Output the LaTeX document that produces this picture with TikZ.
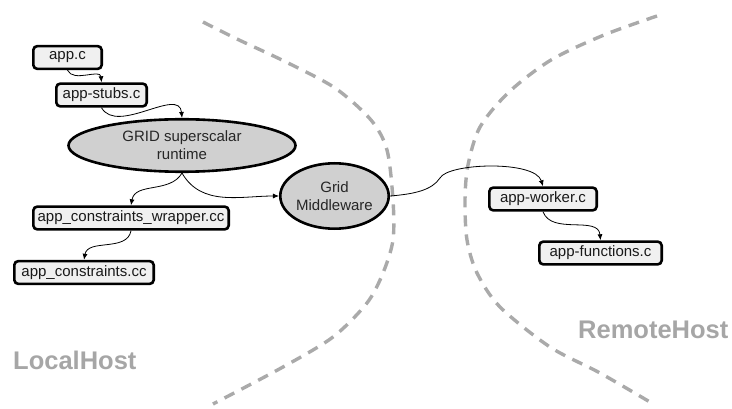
\documentclass[tikz,border=0pt]{standalone}
\usepackage{fontspec}
\setmainfont{Liberation Sans}
\usetikzlibrary{shapes.geometric,arrows.meta}
\definecolor{boxfill}{RGB}{240,240,240}
\definecolor{ellfill}{RGB}{208,208,208}
\definecolor{sepgray}{RGB}{170,170,170}
\definecolor{hostgray}{RGB}{166,166,166}
\begin{document}
\begin{tikzpicture}[x=1pt,y=-1pt,
  filebox/.style={draw=black, line width=2.6pt, rounded corners=4pt, fill=boxfill,
    inner sep=0pt, minimum height=22.8pt, font=\fontsize{15}{18}\selectfont, text=black!90},
  blob/.style={ellipse, draw=black, line width=2.6pt, fill=ellfill, inner sep=0pt,
    align=center, font=\fontsize{15}{18}\selectfont, text=black!85},
  link/.style={line width=0.8pt, -{Latex[length=6pt,width=5pt]}},
  sep/.style={draw=sepgray, line width=3.4pt, dash pattern=on 11pt off 8pt},
  host/.style={inner sep=0pt, text=hostgray, font=\fontsize{25.5}{28}\selectfont\bfseries}]
\useasboundingbox (0,0) rectangle (732,409);

% separators
\draw[sep] plot[smooth] coordinates {(203,22) (237,39) (286,62) (335,88) (371,120) (387,150) (393,200) (393,240) (383,273) (367,303) (333,337) (283,367) (213,404)};
\draw[sep] plot[smooth] coordinates {(657,16) (604,35) (551,60) (509,92) (480,127) (468,165) (465,200) (467,240) (477,273) (500,307) (550,347) (600,373) (655,405)};

% nodes
\node[filebox, minimum width=68.4pt] (app) at (67.5,57.5) {app.c};
\node[filebox, minimum width=90.4pt] (stubs) at (101.5,95) {app-stubs.c};
\node[blob, minimum width=227pt, minimum height=52.5pt] (runtime) at (182,145.5) {GRID superscalar\\runtime};
\node[blob, minimum width=102.4pt, minimum height=65.4pt] (grid) at (334.5,196) {Grid\\Middleware};
\node[filebox, minimum width=195.4pt] (wrapper) at (131,218) {app\_constraints\_wrapper.cc};
\node[filebox, minimum width=139.4pt] (constr) at (84,272.5) {app\_constraints.cc};
\node[filebox, minimum width=107.4pt] (worker) at (543,199) {app-worker.c};
\node[filebox, minimum width=122.4pt] (funcs) at (600.5,253) {app-functions.c};

\node[host, anchor=base west] (local) at (13,370) {LocalHost};
\node[host, anchor=base west] (remote) at (578,338) {RemoteHost};

% connectors
\draw[link] (app.south) to[out=-65,in=95] (stubs.north);
\draw[link] (stubs.south) to[out=-60,in=95] (runtime.north);
\draw[link] (runtime.south) to[out=-120,in=80] (wrapper.north);
\draw[link] (runtime.south) to[out=-60,in=180] (grid.west);
\draw[link] (wrapper.south) to[out=-100,in=80] (constr.north);
\draw[link] (grid.east) .. controls (415,194) and (432,190) .. (440,178) .. controls (448,163) and (535,160) .. (worker.north);
\draw[link] (worker.south) to[out=-70,in=95] (funcs.north);
\end{tikzpicture}
\end{document}
